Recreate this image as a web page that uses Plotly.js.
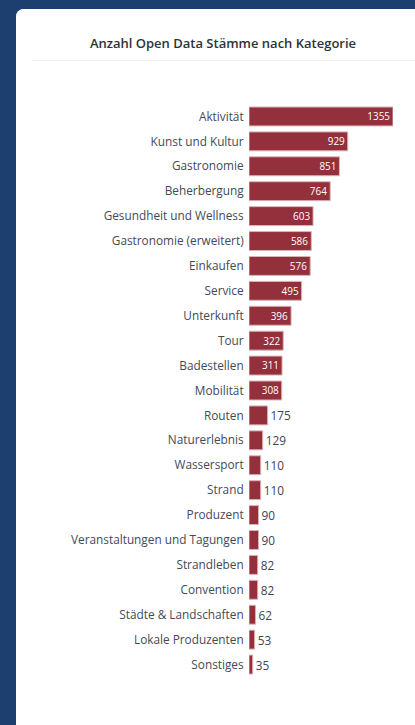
<!DOCTYPE html>
<html>
<head>
<meta charset="utf-8">
<script src="https://cdn.plot.ly/plotly-3.0.1.min.js"></script>
<style>
html,body{margin:0;padding:0;background:#1c3f6f;overflow:hidden;width:415px;height:725px;}
#card{position:absolute;left:16px;top:9px;width:414px;height:730px;background:#ffffff;border-radius:8px;overflow:hidden;}
#chart{width:414px;height:716px;}
</style>
</head>
<body>
<div id="card"><div id="chart"></div></div>
<script>
const chartTitle = "Anzahl Open Data Stämme nach Kategorie";
const categories = ["Aktivität","Kunst und Kultur","Gastronomie","Beherbergung","Gesundheit und Wellness","Gastronomie (erweitert)","Einkaufen","Service","Unterkunft","Tour","Badestellen","Mobilität","Routen","Naturerlebnis","Wassersport","Strand","Produzent","Veranstaltungen und Tagungen","Strandleben","Convention","Städte & Landschaften","Lokale Produzenten","Sonstiges"];
const counts = [1355,929,851,764,603,586,576,495,396,322,311,308,175,129,110,110,90,90,82,82,62,53,35];

const trace = {
  type: 'bar',
  orientation: 'h',
  x: counts,
  y: categories,
  text: counts.map(String),
  textposition: 'auto',
  insidetextanchor: 'end',
  textangle: 0,
  insidetextfont: {family: 'Open Sans, sans-serif', size: 11.5, color: '#ffffff'},
  outsidetextfont: {family: 'Open Sans, sans-serif', size: 11.8, color: '#3d4452'},
  cliponaxis: false,
  marker: {color: '#93303b', line: {color: '#dcb3b8', width: 1}},
  hoverinfo: 'none'
};

const layout = {
  width: 414,
  height: 716,
  margin: {l: 233, r: 37, t: 94.5, b: 47.5},
  paper_bgcolor: '#ffffff',
  plot_bgcolor: '#ffffff',
  bargap: 0.24,
  showlegend: false,
  title: {
    text: chartTitle,
    font: {family: 'Open Sans, sans-serif', size: 13, color: '#2f3338', weight: 600},
    x: 0.5, xref: 'container', xanchor: 'center',
    y: 1 - 34/716, yref: 'container', yanchor: 'middle'
  },
  xaxis: {visible: false, range: [0, 1355], fixedrange: true},
  yaxis: {
    autorange: 'reversed',
    showgrid: false, zeroline: false, showline: false,
    ticks: 'outside', ticklen: 2, tickcolor: 'rgba(0,0,0,0)',
    tickfont: {family: 'Open Sans, sans-serif', size: 11.8, color: '#434a57'},
    fixedrange: true
  },
  shapes: [{
    type: 'line', xref: 'paper', yref: 'paper',
    x0: (16 - 233) / 144, x1: (414 - 233) / 144,
    y0: (668.5 - 51) / 574, y1: (668.5 - 51) / 574,
    line: {color: '#eeeeee', width: 1}
  }]
};

Plotly.newPlot('chart', [trace], layout, {displayModeBar: false, staticPlot: true});
</script>
</body>
</html>
